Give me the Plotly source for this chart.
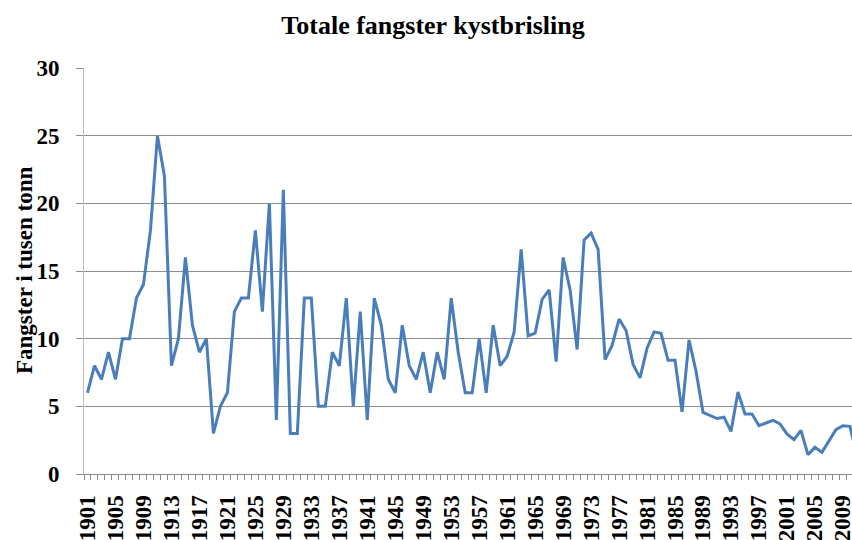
import plotly.graph_objects as go

years = list(range(1901, 2012))
catch = [
    6, 8, 7, 9, 7, 10, 10, 13, 14, 18,
    25, 22, 8, 10, 16, 11, 9, 10, 3, 5,
    6, 12, 13, 13, 18, 12, 20, 4, 21, 3,
    3, 13, 13, 5, 5, 9, 8, 13, 5, 12,
    4, 13, 11, 7, 6, 11, 8, 7, 9, 6,
    9, 7, 13, 9, 6, 6, 10, 6, 11, 8,
    8.7, 10.5, 16.6, 10.2, 10.4, 12.9, 13.6, 8.3, 16.0, 13.6,
    9.2, 17.3, 17.8, 16.6, 8.45, 9.5, 11.45, 10.6, 8.1, 7.1,
    9.3, 10.5, 10.4, 8.4, 8.4, 4.6, 9.9, 7.6, 4.55, 4.3,
    4.1, 4.2, 3.15, 6.06, 4.43, 4.43, 3.57, 3.77, 3.97, 3.7,
    2.96, 2.54, 3.23, 1.43, 1.97, 1.6, 2.46, 3.28, 3.57, 3.52,
    1.4,
]
label_years = list(range(1901, 2010, 4))

serif = "Liberation Serif, Times New Roman, serif"

fig = go.Figure()
fig.add_trace(go.Scatter(
    x=years, y=catch, mode="lines",
    line=dict(color="#4a7ebb", width=3),
    hoverinfo="skip",
))

fig.update_layout(
    width=852, height=540,
    paper_bgcolor="white", plot_bgcolor="white",
    margin=dict(l=84, r=0, t=68, b=66, autoexpand=False),
    showlegend=False,
    title=dict(
        text="Totale fangster kystbrisling",
        x=433 / 852, xanchor="center", y=1 - 25 / 540, yanchor="middle",
        font=dict(family=serif, size=26, color="black", weight="bold"),
    ),
)

# y-axis title as a rotated annotation so its position is fixed
fig.add_annotation(
    text="Fangster i tusen tonn",
    xref="paper", yref="paper",
    x=(24 - 84) / 768, y=0.5,
    xanchor="center", yanchor="middle",
    textangle=-90, showarrow=False,
    font=dict(family=serif, size=23, color="black", weight="bold"),
)

fig.update_xaxes(
    range=[1900.5, 2010.3],
    automargin=False,
    tickvals=label_years,
    ticktext=[str(y) for y in label_years],
    tickangle=-90,
    ticks="",
    ticklabelstandoff=11,
    ticklabeloverflow="allow",
    tickfont=dict(family=serif, size=23, color="black", weight="bold"),
    showgrid=False, zeroline=False,
    showline=True, linecolor="#8c8c8c", linewidth=1,
    minor=dict(ticks="outside", tick0=1900.5, dtick=1, ticklen=5,
               tickcolor="#8c8c8c", tickwidth=1, showgrid=False),
)

fig.update_yaxes(
    range=[0, 30],
    automargin=False,
    tickvals=[0, 5, 10, 15, 20, 25, 30],
    ticks="outside", ticklen=7, tickcolor="#8c8c8c",
    ticklabelstandoff=12,
    tickfont=dict(family=serif, size=23, color="black", weight="bold"),
    showgrid=True, gridcolor="#8c8c8c", gridwidth=1,
    zeroline=False,
    showline=True, linecolor="#bfbfbf", linewidth=1,
)

# drop the page's default body margin so the figure sits at the top-left corner
fig.write_html(
    "out.html",
    config={"displayModeBar": False},
    post_script="document.body.style.margin='0';",
)
